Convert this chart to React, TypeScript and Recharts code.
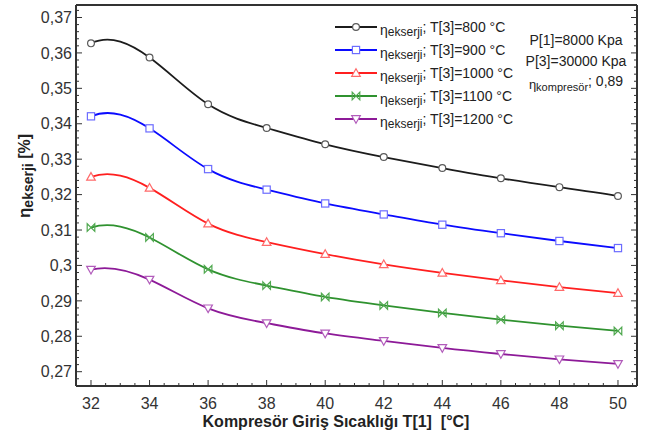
import React from 'react';
import { LineChart, Line, XAxis, YAxis, Legend } from 'recharts';

// ---- data ----
const temps = [32, 34, 36, 38, 40, 42, 44, 46, 48, 50];
const eta800 = [0.3627, 0.3587, 0.3455, 0.3388, 0.3342, 0.3306, 0.3275, 0.3246, 0.3221, 0.3196];
const eta900 = [0.3421, 0.3387, 0.3272, 0.3214, 0.3175, 0.3144, 0.3115, 0.3091, 0.3069, 0.3049];
const eta1000 = [0.3250, 0.3219, 0.3118, 0.3066, 0.3032, 0.3003, 0.2979, 0.2958, 0.2939, 0.2922];
const eta1100 = [0.3107, 0.3079, 0.2989, 0.2943, 0.2911, 0.2887, 0.2866, 0.2847, 0.2830, 0.2815];
const eta1200 = [0.2988, 0.2960, 0.2879, 0.2837, 0.2808, 0.2787, 0.2767, 0.2750, 0.2735, 0.2722];

const seriesLabels = ['T[3]=800 °C', 'T[3]=900 °C', 'T[3]=1000 °C', 'T[3]=1100 °C', 'T[3]=1200 °C'];
const xMajorTicks = [32, 34, 36, 38, 40, 42, 44, 46, 48, 50];
const yMajorTicks = [0.27, 0.28, 0.29, 0.3, 0.31, 0.32, 0.33, 0.34, 0.35, 0.36, 0.37];
const annotationLines = ['P[1]=8000 Kpa', 'P[3]=30000 Kpa'];
const compressorEff = '0,89';

const X_DOMAIN: [number, number] = [31.488, 50.65];
const Y_DOMAIN: [number, number] = [0.26596, 0.37353];

// minor ticks (every 0.5 on x, every 0.002 on y)
const xTicks: number[] = [];
for (let i = 0; i <= 37; i++) xTicks.push(32 + i * 0.5);
const yTicks: number[] = [];
for (let i = 0; i <= 52; i++) yTicks.push(+(0.268 + i * 0.002).toFixed(3));

const data = temps.map((t, i) => ({
  t,
  s800: eta800[i],
  s900: eta900[i],
  s1000: eta1000[i],
  s1100: eta1100[i],
  s1200: eta1200[i],
}));

const FONT = '"Liberation Sans", Arial, sans-serif';
const AXIS = '#333';

// not-a-knot cubic spline curve factory (passes through every point)
function splineCurve(context: any) {
  let xs: number[] = [];
  let ys: number[] = [];
  const draw = () => {
    const n = xs.length;
    if (n === 0) return;
    context.moveTo(xs[0], ys[0]);
    if (n < 4) {
      for (let i = 1; i < n; i++) context.lineTo(xs[i], ys[i]);
      return;
    }
    const h: number[] = [];
    for (let i = 0; i < n - 1; i++) h.push(xs[i + 1] - xs[i]);
    const A: number[][] = [];
    const b: number[] = [];
    for (let i = 0; i < n; i++) {
      A.push(new Array(n).fill(0));
      b.push(0);
    }
    A[0][0] = -h[1];
    A[0][1] = h[0] + h[1];
    A[0][2] = -h[0];
    for (let i = 1; i < n - 1; i++) {
      A[i][i - 1] = h[i - 1];
      A[i][i] = 2 * (h[i - 1] + h[i]);
      A[i][i + 1] = h[i];
      b[i] = 6 * ((ys[i + 1] - ys[i]) / h[i] - (ys[i] - ys[i - 1]) / h[i - 1]);
    }
    A[n - 1][n - 3] = -h[n - 2];
    A[n - 1][n - 2] = h[n - 3] + h[n - 2];
    A[n - 1][n - 1] = -h[n - 3];
    // gaussian elimination with partial pivoting
    for (let c = 0; c < n; c++) {
      let p = c;
      for (let r = c + 1; r < n; r++) if (Math.abs(A[r][c]) > Math.abs(A[p][c])) p = r;
      [A[c], A[p]] = [A[p], A[c]];
      [b[c], b[p]] = [b[p], b[c]];
      for (let r = c + 1; r < n; r++) {
        const f = A[r][c] / A[c][c];
        if (!f) continue;
        for (let k = c; k < n; k++) A[r][k] -= f * A[c][k];
        b[r] -= f * b[c];
      }
    }
    const M = new Array(n).fill(0);
    for (let r = n - 1; r >= 0; r--) {
      let s = b[r];
      for (let k = r + 1; k < n; k++) s -= A[r][k] * M[k];
      M[r] = s / A[r][r];
    }
    for (let i = 0; i < n - 1; i++) {
      const hi = h[i];
      const d = (ys[i + 1] - ys[i]) / hi;
      const s0 = d - (hi * (2 * M[i] + M[i + 1])) / 6;
      const s1 = d + (hi * (M[i] + 2 * M[i + 1])) / 6;
      context.bezierCurveTo(
        xs[i] + hi / 3,
        ys[i] + (s0 * hi) / 3,
        xs[i + 1] - hi / 3,
        ys[i + 1] - (s1 * hi) / 3,
        xs[i + 1],
        ys[i + 1]
      );
    }
  };
  return {
    areaStart() {},
    areaEnd() {},
    lineStart() {
      xs = [];
      ys = [];
    },
    lineEnd() {
      draw();
    },
    point(x: number, y: number) {
      xs.push(+x);
      ys.push(+y);
    },
  };
}

type Shape = 'circle' | 'square' | 'up' | 'bowtie' | 'down';
const series: { key: string; color: string; marker: string; shape: Shape }[] = [
  { key: 's800', color: '#1c1c1c', marker: '#5a5a5a', shape: 'circle' },
  { key: 's900', color: '#0b0bff', marker: '#6c6cff', shape: 'square' },
  { key: 's1000', color: '#ff1f1f', marker: '#ff6a6a', shape: 'up' },
  { key: 's1100', color: '#2f922f', marker: '#4fa84f', shape: 'bowtie' },
  { key: 's1200', color: '#8d1a98', marker: '#b25cbb', shape: 'down' },
];

function Marker({ cx, cy, shape, color }: { cx: number; cy: number; shape: Shape; color: string }) {
  const sw = 1.2;
  if (shape === 'circle') return <circle cx={cx} cy={cy} r={3.4} fill="#fff" stroke={color} strokeWidth={sw} />;
  if (shape === 'square') return <rect x={cx - 3.6} y={cy - 3.6} width={7.2} height={7.2} fill="#fff" stroke={color} strokeWidth={sw} />;
  if (shape === 'up')
    return <polygon points={`${cx},${cy - 4.3} ${cx + 4.3},${cy + 3.3} ${cx - 4.3},${cy + 3.3}`} fill="#fff" stroke={color} strokeWidth={sw} />;
  if (shape === 'down')
    return <polygon points={`${cx},${cy + 4.3} ${cx + 4.3},${cy - 3.3} ${cx - 4.3},${cy - 3.3}`} fill="#fff" stroke={color} strokeWidth={sw} />;
  return (
    <path
      d={`M${cx - 3.8},${cy - 3.8} L${cx + 3.8},${cy + 3.8} L${cx + 3.8},${cy - 3.8} L${cx - 3.8},${cy + 3.8} Z`}
      fill="none"
      stroke={color}
      strokeWidth={sw}
    />
  );
}

const isXMajor = (v: number) => xMajorTicks.includes(v);
const isYMajor = (v: number) => yMajorTicks.some((m) => Math.abs(m - v) < 1e-6);
const fmtY = (v: number) => String(+v.toFixed(2)).replace('.', ',');

function XTick(props: any) {
  const { x, y, payload, side } = props;
  const v = payload.value;
  const major = isXMajor(v);
  const len = major ? 6 : 3;
  const dir = side === 'bottom' ? -1 : 1;
  return (
    <g>
      <line x1={x} x2={x} y1={y} y2={y + dir * len} stroke={AXIS} strokeWidth={1} />
      {side === 'bottom' && major ? (
        <text x={x} y={y + 23} textAnchor="middle" fontSize={16} fill="#333" fontFamily={FONT}>
          {v}
        </text>
      ) : null}
    </g>
  );
}

function YTick(props: any) {
  const { x, y, payload, side } = props;
  const v = payload.value;
  const major = isYMajor(v);
  const len = major ? 6 : 3;
  const dir = side === 'left' ? 1 : -1;
  return (
    <g>
      <line x1={x} x2={x + dir * len} y1={y} y2={y} stroke={AXIS} strokeWidth={1} />
      {side === 'left' && major ? (
        <text x={x - 4} y={y + 5.7} textAnchor="end" fontSize={16} fill="#333" fontFamily={FONT}>
          {fmtY(v)}
        </text>
      ) : null}
    </g>
  );
}

function YTitle() {
  return (
    <text
      transform="translate(30, 176) rotate(-90)"
      textAnchor="middle"
      fontFamily={FONT}
      fontWeight="bold"
      fill="#222"
    >
      <tspan fontSize={17}>η</tspan>
      <tspan fontSize={14} dy={3}>ekserji</tspan>
      <tspan fontSize={16} dy={-3}> [%]</tspan>
    </text>
  );
}

function XTitle() {
  return (
    <text x={336} y={427} textAnchor="middle" fontSize={16} fontWeight="bold" fill="#222" fontFamily={FONT} style={{ whiteSpace: 'pre' }}>
      {'Kompresör Giriş Sıcaklığı T[1]  [°C]'}
    </text>
  );
}

function renderLegend() {
  return (
    <div style={{ fontFamily: FONT, color: '#222' }}>
      {series.map((s, i) => (
        <div key={s.key} style={{ display: 'flex', alignItems: 'center', height: 22.8, whiteSpace: 'nowrap' }}>
          <svg width={42} height={14} style={{ display: 'block' }}>
            <line x1={0} x2={42} y1={7} y2={7} stroke={s.color} strokeWidth={1.8} />
            <Marker cx={21} cy={7} shape={s.shape} color={s.marker} />
          </svg>
          <span style={{ marginLeft: 3, fontSize: 14, position: 'relative', top: 3 }}>η</span>
          <span style={{ fontSize: 12, position: 'relative', top: 5 }}>ekserji</span>
          <span style={{ fontSize: 14 }}>; {seriesLabels[i]}</span>
        </div>
      ))}
    </div>
  );
}

export default function App() {
  return (
    <div style={{ position: 'absolute', left: 0, top: 0, width: 649, height: 438, background: '#fff' }}>
      <LineChart width={649} height={438} data={data} margin={{ top: 4, right: 11, bottom: 12, left: 16 }}>
        <XAxis
          xAxisId="b"
          type="number"
          dataKey="t"
          domain={X_DOMAIN}
          allowDataOverflow
          ticks={xTicks}
          interval={0}
          height={40}
          tickSize={0}
          tickMargin={0}
          tickLine={false}
          axisLine={{ stroke: AXIS, strokeWidth: 2 }}
          tick={(p: any) => <XTick {...p} side="bottom" />}
          label={<XTitle />}
        />
        <XAxis
          xAxisId="t"
          orientation="top"
          type="number"
          domain={X_DOMAIN}
          allowDataOverflow
          ticks={xTicks}
          interval={0}
          height={1}
          tickSize={0}
          tickMargin={0}
          tickLine={false}
          axisLine={{ stroke: AXIS, strokeWidth: 2 }}
          tick={(p: any) => <XTick {...p} side="top" />}
        />
        <YAxis
          yAxisId="l"
          type="number"
          domain={Y_DOMAIN}
          allowDataOverflow
          ticks={yTicks}
          interval={0}
          width={60}
          tickSize={0}
          tickMargin={0}
          tickLine={false}
          axisLine={{ stroke: AXIS, strokeWidth: 2 }}
          tick={(p: any) => <YTick {...p} side="left" />}
          label={<YTitle />}
        />
        <YAxis
          yAxisId="r"
          orientation="right"
          type="number"
          domain={Y_DOMAIN}
          allowDataOverflow
          ticks={yTicks}
          interval={0}
          width={1}
          tickSize={0}
          tickMargin={0}
          tickLine={false}
          axisLine={{ stroke: AXIS, strokeWidth: 2 }}
          tick={(p: any) => <YTick {...p} side="right" />}
        />
        {series.map((s) => (
          <Line
            key={s.key}
            xAxisId="b"
            yAxisId="l"
            type={splineCurve as any}
            dataKey={s.key}
            stroke={s.color}
            strokeWidth={1.8}
            isAnimationActive={false}
            dot={(p: any) => <Marker key={`${s.key}-${p.index}`} cx={p.cx} cy={p.cy} shape={s.shape} color={s.marker} />}
            activeDot={false}
          />
        ))}
        <Legend
          layout="vertical"
          align="center"
          verticalAlign="middle"
          content={renderLegend}
          wrapperStyle={{ position: 'absolute', left: 335, top: 16, width: 220, height: 120 }}
        />
      </LineChart>
      <div
        style={{
          position: 'absolute',
          left: 516,
          top: 30,
          width: 120,
          fontFamily: FONT,
          fontSize: 14,
          color: '#222',
          textAlign: 'center',
          lineHeight: '20.5px',
        }}
      >
        {annotationLines.map((l) => (
          <div key={l}>{l}</div>
        ))}
        <div style={{ whiteSpace: 'nowrap' }}>
          <span style={{ fontSize: 13, position: 'relative', top: 3 }}>η</span>
          <span style={{ fontSize: 11, position: 'relative', top: 5 }}>kompresör</span>
          <span>; {compressorEff}</span>
        </div>
      </div>
    </div>
  );
}
